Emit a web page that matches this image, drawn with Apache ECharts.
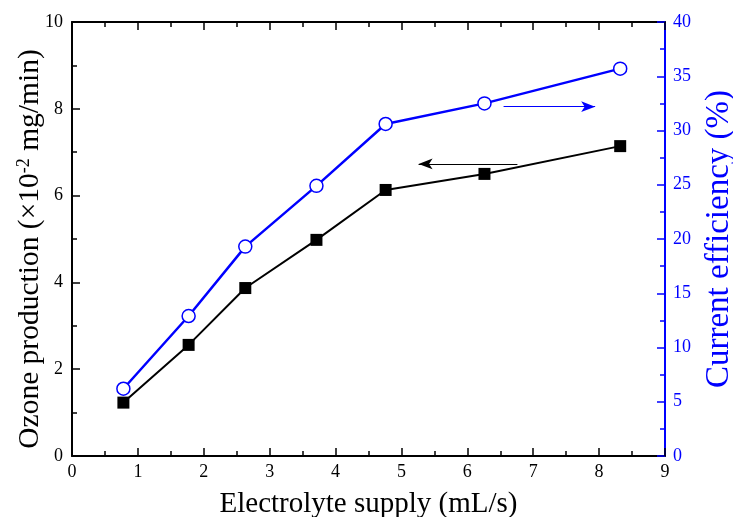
<!DOCTYPE html>
<html><head><meta charset="utf-8">
<script src="https://cdn.jsdelivr.net/npm/echarts@6/dist/echarts.min.js"></script>
<style>html,body{margin:0;padding:0;background:#fff}#c{width:733px;height:517px}</style>
</head><body><div id="c"></div>
<script>
const supply = [0.78, 1.77, 2.63, 3.71, 4.76, 6.26, 8.32];
const ozone = [1.23, 2.56, 3.87, 4.98, 6.13, 6.50, 7.14];
const efficiency = [6.2, 12.9, 19.3, 24.9, 30.6, 32.5, 35.7];
const xTicks = [0,1,2,3,4,5,6,7,8,9];
const leftTicks = [0,2,4,6,8,10];
const rightTicks = [0,5,10,15,20,25,30,35,40];

const font = 'Liberation Serif';
const blue = '#0000ff';
const chart = echarts.init(document.getElementById('c'));
const tickStyle = (color) => ({
  axisLine: {show: true, onZero: false, lineStyle: {color: color, width: 2}},
  axisTick: {show: true, inside: true, length: 8, lineStyle: {color: color, width: 1.5}},
  minorTick: {show: true, splitNumber: 2, length: 5, lineStyle: {color: color, width: 1.5}},
  splitLine: {show: false},
  nameMoveOverlap: false
});
chart.setOption({
  animation: false,
  grid: {left: 72, right: 68, top: 22, bottom: 61, containLabel: false, outerBoundsMode: 'none'},
  xAxis: [
    Object.assign({
      type: 'value', min: xTicks[0], max: xTicks[xTicks.length-1], interval: 1,
      name: 'Electrolyte supply (mL/s)', nameLocation: 'middle', nameGap: 34,
      nameTextStyle: {fontFamily: font, fontSize: 29, color: '#000'},
      axisLabel: {fontFamily: font, fontSize: 18, color: '#000', margin: 7}
    }, tickStyle('#000')),
    Object.assign({
      type: 'value', position: 'top', min: 0, max: 9, interval: 1,
      axisLabel: {show: false}
    }, tickStyle('#000'))
  ],
  yAxis: [
    Object.assign({
      type: 'value', min: leftTicks[0], max: leftTicks[leftTicks.length-1], interval: 2,
      name: '{a|Ozone production (×10}{s|-2}{a| mg/min)}', nameLocation: 'middle', nameGap: 27, nameRotate: 90,
      nameTextStyle: {fontFamily: font, fontSize: 29.5, color: '#000', padding: [0, 20, 0, 0],
        rich: {a: {fontFamily: font, fontSize: 29.5, color: '#000'},
               s: {fontFamily: font, fontSize: 18, color: '#000', verticalAlign: 'top', padding: [0,0,12,0]}}},
      axisLabel: {fontFamily: font, fontSize: 18, color: '#000', margin: 9}
    }, tickStyle('#000')),
    Object.assign({
      type: 'value', position: 'right', min: rightTicks[0], max: rightTicks[rightTicks.length-1], interval: 5,
      name: 'Current efficiency (%)', nameLocation: 'middle', nameGap: 38, nameRotate: 90,
      nameTextStyle: {fontFamily: font, fontSize: 33, color: blue},
      axisLabel: {fontFamily: font, fontSize: 18, color: blue, margin: 8}
    }, tickStyle(blue))
  ],
  series: [
    {
      type: 'line', xAxisIndex: 0, yAxisIndex: 0,
      data: supply.map((x, i) => [x, ozone[i]]),
      symbol: 'rect', symbolSize: 12,
      lineStyle: {color: '#000', width: 2},
      itemStyle: {color: '#000'},
      markLine: {
        silent: true, symbol: ['none', 'arrow'], symbolSize: [8, 14],
        label: {show: false},
        lineStyle: {color: '#000', width: 1.2, type: 'solid'},
        data: [[{coord: [6.76, 6.73]}, {coord: [5.26, 6.73]}]]
      }
    },
    {
      type: 'line', xAxisIndex: 0, yAxisIndex: 1,
      data: supply.map((x, i) => [x, efficiency[i]]),
      symbol: 'circle', symbolSize: 13,
      lineStyle: {color: blue, width: 2.5},
      itemStyle: {color: '#fff', borderColor: blue, borderWidth: 1.5},
      markLine: {
        silent: true, symbol: ['none', 'arrow'], symbolSize: [8, 14],
        label: {show: false},
        lineStyle: {color: blue, width: 1.2, type: 'solid'},
        data: [[{coord: [6.55, 32.2]}, {coord: [7.94, 32.2]}]]
      }
    }
  ]
});
</script></body></html>
